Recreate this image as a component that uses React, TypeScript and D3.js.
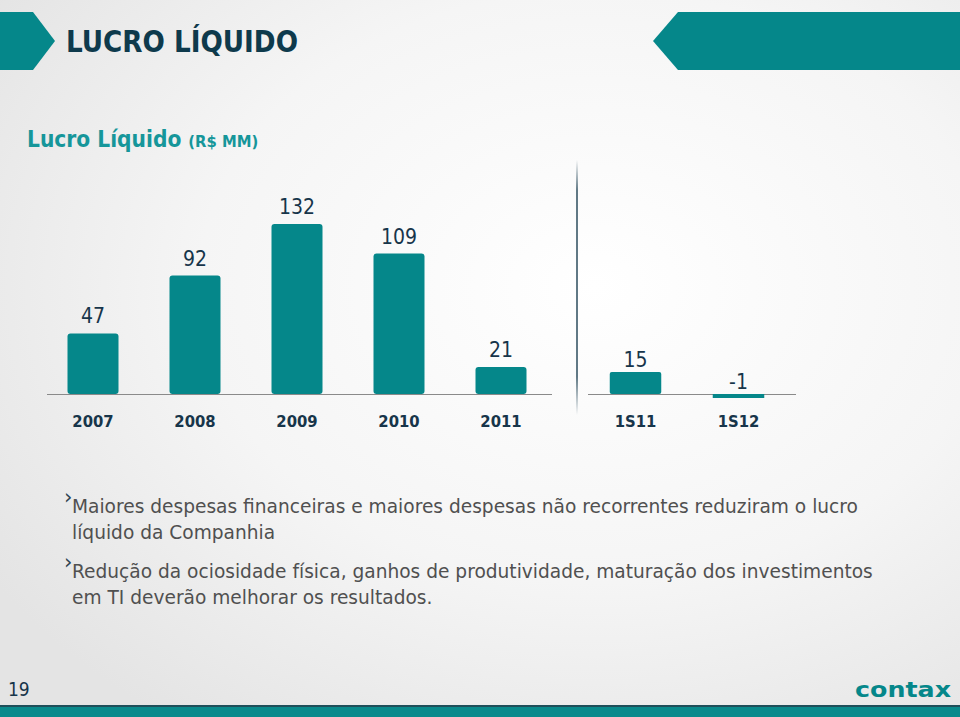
import React from "react";
import * as d3 from "d3";

const yearCats = ["2007", "2008", "2009", "2010", "2011"];
const yearValues = [47, 92, 132, 109, 21];
const semCats = ["1S11", "1S12"];
const semValues = [15, -1];
const valueLabels = ["47", "92", "132", "109", "21"];
const semLabels = ["15", "-1"];
const bullets = [
  ["Maiores despesas financeiras e maiores despesas não recorrentes reduziram o lucro", "líquido da Companhia"],
  ["Redução da ociosidade física, ganhos de produtividade, maturação dos investimentos", "em TI deverão melhorar os resultados."],
];

const W = 960;
const H = 717;
const TEAL = "#05878a";
const NAVY = "#17354a";
const COND = "'DejaVu Sans Condensed', 'DejaVu Sans', sans-serif";

export default function App() {
  const baseY = 394;
  const xL = d3.scaleBand().domain(yearCats).range([42, 552]).paddingInner(0.5).paddingOuter(0.25);
  const yL = d3.scaleLinear().domain([0, 132]).range([baseY, 224]);
  const xR = d3.scaleBand().domain(semCats).range([584, 790]).paddingInner(0.5).paddingOuter(0.25);
  const yR = d3.scaleLinear().domain([0, 15]).range([baseY, 372]);

  return (
    <svg width={W} height={H} style={{ position: "absolute", left: 0, top: 0, display: "block" }}>
      <defs>
        <radialGradient id="bg" cx="0.62" cy="0.4" r="0.75">
          <stop offset="0" stopColor="#ffffff" />
          <stop offset="0.55" stopColor="#f5f5f5" />
          <stop offset="1" stopColor="#e4e4e4" />
        </radialGradient>
        <linearGradient id="div" x1="0" y1="0" x2="0" y2="1">
          <stop offset="0" stopColor="#4f6a78" stopOpacity="0" />
          <stop offset="0.12" stopColor="#4f6a78" stopOpacity="0.9" />
          <stop offset="0.85" stopColor="#4f6a78" stopOpacity="0.9" />
          <stop offset="1" stopColor="#4f6a78" stopOpacity="0" />
        </linearGradient>
      </defs>
      <rect x={0} y={0} width={W} height={H} fill="url(#bg)" />

      {/* header shapes */}
      <polygon points="0,12 33,12 55,41 33,70 0,70" fill={TEAL} />
      <polygon points="678,12 960,12 960,70 678,70 653,41" fill={TEAL} />
      <text x={66} y={52} fontFamily={COND} fontWeight="bold" fontSize={30} fill="#0e3a4c" textLength={232} lengthAdjust="spacingAndGlyphs">
        LUCRO LÍQUIDO
      </text>

      <text x={27} y={147} fontFamily={COND} fontWeight="bold" fill="#16969a">
        <tspan fontSize={22.5}>Lucro Líquido</tspan>
        <tspan fontSize={16.5} dx={7}>(R$ MM)</tspan>
      </text>

      {/* left chart */}
      <line x1={47} x2={552} y1={baseY + 0.5} y2={baseY + 0.5} stroke="#8a8a8a" strokeWidth={1} />
      {yearCats.map((c, i) => {
        const v = yearValues[i];
        const x = xL(c)!;
        const bw = xL.bandwidth();
        const top = yL(v);
        return (
          <g key={c}>
            <rect x={x} y={top} width={bw} height={baseY - top} rx={3} ry={3} fill={TEAL} />
            <text x={x + bw / 2} y={top - 10} textAnchor="middle" fontFamily={COND} fontSize={21} fill={NAVY}>
              {valueLabels[i]}
            </text>
            <text x={x + bw / 2} y={427} textAnchor="middle" fontFamily={COND} fontWeight="bold" fontSize={16.5} fill={NAVY}>
              {c}
            </text>
          </g>
        );
      })}

      {/* divider */}
      <rect x={576} y={160} width={2} height={255} fill="url(#div)" />

      {/* right chart */}
      <line x1={588} x2={796} y1={baseY + 0.5} y2={baseY + 0.5} stroke="#8a8a8a" strokeWidth={1} />
      {semCats.map((c, i) => {
        const v = semValues[i];
        const x = xR(c)!;
        const bw = xR.bandwidth();
        const y0 = yR(Math.max(0, v));
        const y1 = yR(Math.min(0, v));
        const labelY = v >= 0 ? y0 - 5 : baseY - 5;
        return (
          <g key={c}>
            <rect x={x} y={v >= 0 ? y0 : baseY} width={bw} height={v >= 0 ? y1 - y0 : Math.max(4, y1 - y0)} rx={v >= 0 ? 2 : 0} fill={TEAL} />
            <text x={x + bw / 2} y={labelY} textAnchor="middle" fontFamily={COND} fontSize={21} fill={NAVY}>
              {semLabels[i]}
            </text>
            <text x={x + bw / 2} y={427} textAnchor="middle" fontFamily={COND} fontWeight="bold" fontSize={16.5} fill={NAVY}>
              {c}
            </text>
          </g>
        );
      })}

      {/* bullets */}
      {bullets.map((lines, bi) => {
        const y0 = bi === 0 ? 513 : 578;
        return (
          <g key={bi}>
            <text x={64} y={y0 - 9} fontFamily="'DejaVu Sans', sans-serif" fontSize={21} fill="#2e4452">›</text>
            {lines.map((t, li) => (
              <text key={li} x={72} y={y0 + li * 25.5} fontFamily="'DejaVu Sans', sans-serif" fontSize={18.6} fill="#505050">
                {t}
              </text>
            ))}
          </g>
        );
      })}

      {/* footer */}
      <text x={8} y={696} fontFamily={COND} fontSize={19} fill={NAVY}>19</text>
      <text x={951} y={697} textAnchor="end" fontFamily={COND} fontWeight="bold" fontSize={22} fill={TEAL} textLength={96} lengthAdjust="spacingAndGlyphs">contax</text>
      <rect x={0} y={705} width={W} height={2} fill="#1f4f5a" />
      <rect x={0} y={707} width={W} height={10} fill="#0a8a8c" />
    </svg>
  );
}
